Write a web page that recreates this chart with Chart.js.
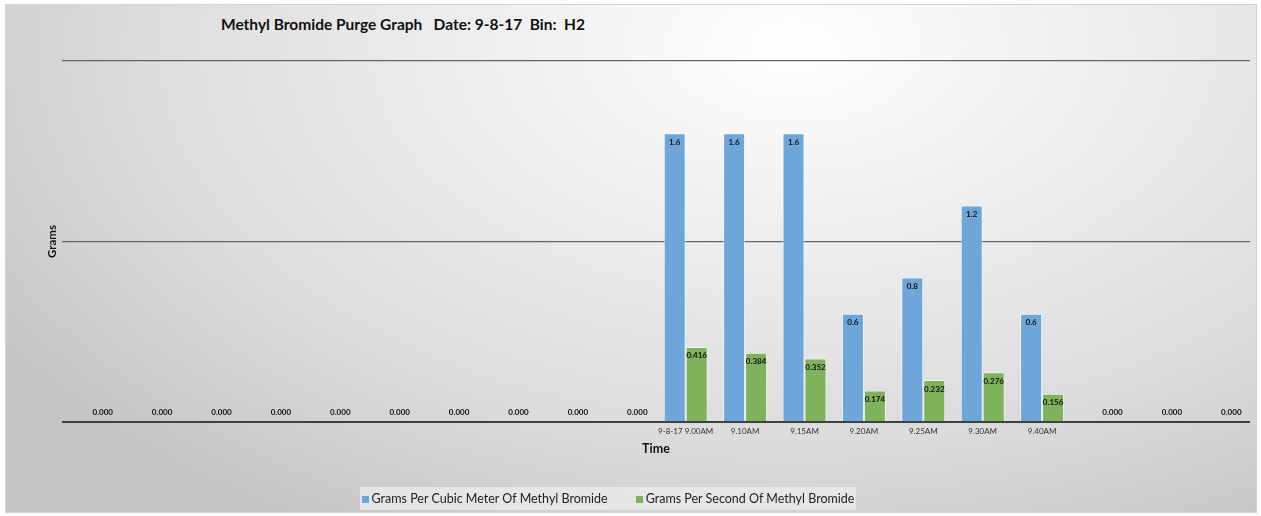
<!DOCTYPE html>
<html>
<head>
<meta charset="utf-8">
<script src="https://cdn.jsdelivr.net/npm/chart.js@4.4.1/dist/chart.umd.min.js"></script>
<style>
  html, body { margin: 0; padding: 0; background: #fff; }
  #wrap {
    position: relative; width: 1261px; height: 516px; overflow: hidden;
    font-family: Lato, "Open Sans", sans-serif;
  }
  #bg {
    position: absolute; left: 5px; top: 4px; width: 1252px; height: 509px;
    background: radial-gradient(ellipse 75% 110% at 63% 8%, #ffffff 0%, #f0f0f0 30%, #dcdcdc 70%, #c6c6c6 100%);
    border: 1px solid #d4d4d4;
    box-sizing: border-box;
  }
  #title {
    position: absolute; left: 221px; top: 15px;
    font-weight: bold; font-size: 15.5px; color: #111; white-space: pre;
  }
  #chartBox { position: absolute; left: 0; top: 0; width: 1261px; height: 516px; }
  #legend {
    position: absolute; left: 360px; top: 487px; width: 496px; height: 23px;
    background: rgba(235,235,235,0.8);
    display: flex; align-items: center; justify-content: center; gap: 28px;
    font-size: 12.5px; color: #222; white-space: nowrap;
  }
  #legend div { white-space: nowrap; flex: none; }
  #legend span.box { display: inline-block; width: 7px; height: 7px; margin-right: 3px; }
</style>
</head>
<body>
<div id="wrap">
  <div id="bg"></div>
  <div id="title">Methyl Bromide Purge Graph   Date: 9-8-17  Bin:  H2</div>
  <div id="chartBox"><canvas id="chart"></canvas></div>
  <div id="legend"></div>
</div>
<script>
// time slots (only the middle ones have a label)
const timeLabels = ['', '', '', '', '', '', '', '', '', '',
  '9-8-17 9.00AM', '9.10AM', '9.15AM', '9.20AM', '9.25AM', '9.30AM', '9.40AM', '', '', ''];
const perCubicMeter = [null, null, null, null, null, null, null, null, null, null,
  1.6, 1.6, 1.6, 0.6, 0.8, 1.2, 0.6, null, null, null];
const perSecond = [0, 0, 0, 0, 0, 0, 0, 0, 0, 0,
  0.416, 0.384, 0.352, 0.174, 0.232, 0.276, 0.156, 0, 0, 0];
const seriesNames = ['Grams Per Cubic Meter Of Methyl Bromide', 'Grams Per Second Of Methyl Bromide'];
const seriesColors = ['#6FA6DA', '#7EB35C'];
const yTicks = [0, 1, 2];

// draw value labels just inside the bar tops (zero values sit above the axis)
const valueLabels = {
  id: 'valueLabels',
  afterDatasetsDraw(chart) {
    const ctx = chart.ctx;
    ctx.save();
    ctx.font = 'bold 8px Lato, sans-serif';
    ctx.fillStyle = '#111';
    ctx.textAlign = 'center';
    ctx.textBaseline = 'middle';
    chart.data.datasets.forEach((ds, i) => {
      const meta = chart.getDatasetMeta(i);
      meta.data.forEach((bar, j) => {
        const v = ds.data[j];
        if (v === null || v === undefined) return;
        const txt = i === 0 ? String(v) : v.toFixed(3);
        const y = v > 0 ? bar.y + 9 : bar.y - 10;
        ctx.fillText(txt, bar.x, y);
      });
    });
    ctx.restore();
  }
};

const chart = new Chart(document.getElementById('chart'), {
  type: 'bar',
  data: {
    labels: timeLabels,
    datasets: [
      {
        label: seriesNames[0],
        data: perCubicMeter,
        backgroundColor: seriesColors[0],
        borderColor: 'rgba(255,255,255,0.6)',
        borderWidth: 1,
      },
      {
        label: seriesNames[1],
        data: perSecond,
        backgroundColor: seriesColors[1],
        borderColor: 'rgba(255,255,255,0.6)',
        borderWidth: 1,
      },
    ],
  },
  options: {
    responsive: true,
    maintainAspectRatio: false,
    animation: false,
    categoryPercentage: 0.74,
    barPercentage: 1.0,
    layout: { padding: { top: 61, right: 11, bottom: 44, left: 0 } },
    plugins: {
      legend: { display: false },
      tooltip: { enabled: false },
    },
    scales: {
      x: {
        grid: { display: false, drawTicks: false },
        border: { display: false },
        ticks: {
          autoSkip: false, maxRotation: 0, padding: 5,
          color: '#333', font: { family: 'Lato', size: 8 },
        },
        title: {
          display: true, text: 'Time', color: '#111',
          font: { family: 'Lato', size: 12.5, weight: 'bold' },
          padding: { top: 0, bottom: 16 },
        },
        afterFit(scale) { scale.height = 50; },
      },
      y: {
        min: yTicks[0],
        max: yTicks[yTicks.length - 1],
        afterBuildTicks(scale) { scale.ticks = yTicks.map(v => ({ value: v })); },
        ticks: { display: false },
        grid: {
          drawTicks: false,
          color: ctx => ctx.tick && ctx.tick.value === 0 ? '#404040' : '#5f6470',
          lineWidth: ctx => ctx.tick && ctx.tick.value === 0 ? 2 : 1.2,
        },
        border: { display: false },
        title: {
          display: true, text: 'Grams', color: '#111',
          font: { family: 'Lato', size: 11.5, weight: 'bold' },
          padding: { top: 45, bottom: 0 },
        },
        afterFit(scale) { scale.width = 62; },
      },
    },
  },
  plugins: [valueLabels],
});

// legend in its own box under the chart
const legendEl = document.getElementById('legend');
seriesNames.forEach((name, i) => {
  const item = document.createElement('div');
  item.innerHTML = '<span class="box" style="background:' + seriesColors[i] + '"></span>' + name;
  legendEl.appendChild(item);
});
</script>
</body>
</html>
